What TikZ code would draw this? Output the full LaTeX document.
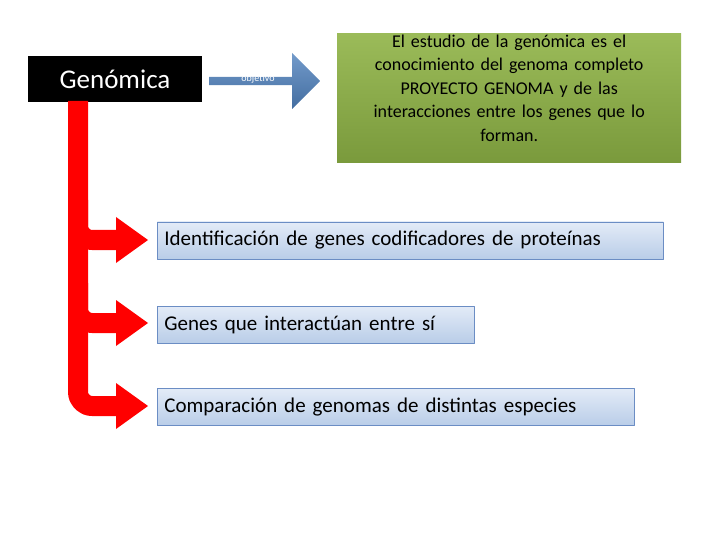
\documentclass[tikz,border=0pt]{standalone}
\usepackage{fontspec}
\setmainfont{Carlito}
\usetikzlibrary{shapes.arrows}

\definecolor{itemtop}{HTML}{E3EBF7}
\definecolor{itembot}{HTML}{B9CDE8}
\definecolor{itemline}{HTML}{6B8DC4}
\definecolor{objblue}{HTML}{4F81BD}
\definecolor{defgreen}{HTML}{9BBB59}
\definecolor{defdark}{HTML}{7A9A3C}

\tikzset{
  itembox/.style={draw=itemline, line width=0.8pt, top color=itemtop, bottom color=itembot,
    anchor=west, minimum height=37pt, inner sep=7pt, align=left, font=\fontsize{21}{25}\selectfont},
  redband/.style={draw=red, line width=20pt, rounded corners=14pt},
  redtip/.style={fill=red, draw=none}
}

\begin{document}
\begin{tikzpicture}[x=1pt, y=-1pt, line join=round]
    \useasboundingbox (0,0) rectangle (720,540);

    \node[fill=black, text=white, minimum width=174pt, minimum height=46pt, inner sep=0pt,
      font=\fontsize{27}{30}\selectfont] (gen) at (115,79) {Genómica};

    \node[single arrow, top color=objblue!80!white, bottom color=objblue!85!black, draw=none,
      minimum height=111pt, minimum width=56pt, single arrow head extend=13pt, inner sep=2pt,
      single arrow tip angle=90, anchor=west] (obj) at (209,81) {};
    \node[text=white, font=\fontsize{10}{12}\selectfont] (objtxt) at (258,79) {objetivo};

    \node[top color=defgreen, bottom color=defdark,
      minimum width=344pt, minimum height=129pt, inner sep=0pt, anchor=north west] (def) at (337,33) {};
    \node[text width=330pt, align=center, font=\fontsize{18}{23.5}\selectfont, anchor=north]
      (deftxt) at ([yshift=2pt]def.north)
      {El estudio de la genómica es el\\ conocimiento del genoma completo\\ PROYECTO GENOMA y de las\\ interacciones entre los genes que lo\\ forman.};

    \node[itembox, minimum width=506pt, text width=492pt] (id) at (157,240.5)
      {Identificación de genes codificadores de proteínas};
    \node[itembox, minimum width=317pt, text width=303pt] (inter) at (157,324.5)
      {Genes que interactúan entre sí};
    \node[itembox, minimum width=477pt, text width=463pt] (comp) at (157,407)
      {Comparación de genomas de distintas especies};

    % red branching arrow
    \coordinate (t1) at (120,240);
    \coordinate (t2) at (120,323);
    \coordinate (t3) at (120,406);
    \draw[redband] (78,101) |- (t3);
    \draw[redband] (78,200) |- (t1);
    \draw[redband] (78,283) |- (t2);
    \foreach \t in {t1,t2,t3}
        \fill[redtip] ([xshift=-4pt, yshift=-23pt]\t) -- ([xshift=28pt]\t) -- ([xshift=-4pt, yshift=23pt]\t) -- cycle;
\end{tikzpicture}
\end{document}
